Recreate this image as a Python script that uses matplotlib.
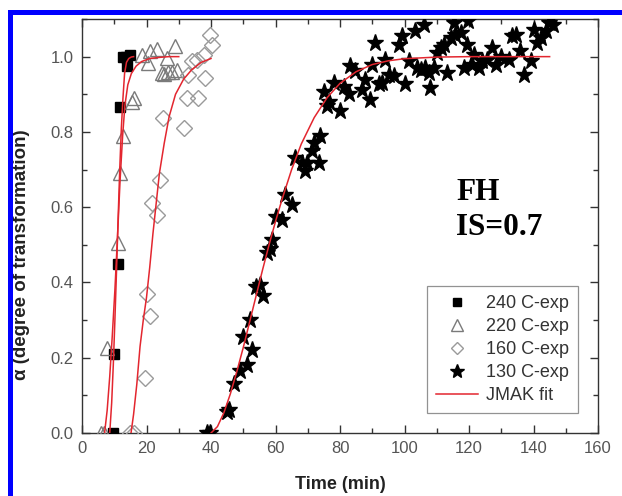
import matplotlib
matplotlib.use("Agg")
import matplotlib.pyplot as plt
from matplotlib.lines import Line2D
from matplotlib.ticker import MultipleLocator, FormatStrFormatter

# ---------------- data ----------------
t240 = [9.5, 9.8, 11.3, 11.8, 12.8, 13.6, 14.1, 14.9]
a240 = [0.0, 0.21, 0.45, 0.865, 1.0, 1.0, 0.975, 1.005]

t220 = [6.0, 6.8, 7.7, 11.3, 11.8, 12.6, 15.5, 16.0, 18.5, 20.6, 21.1, 23.2,
        24.7, 25.5, 26.3, 26.8, 27.8, 28.9, 29.4]
a220 = [0.0, 0.0, 0.225, 0.505, 0.69, 0.79, 0.88, 0.89, 1.005, 0.983, 1.014, 1.019,
        0.957, 0.955, 0.996, 0.96, 0.96, 1.027, 0.965]

t160 = [14.8, 16.0, 19.6, 20.1, 21.1, 21.6, 23.2, 24.2, 25.2, 31.5, 32.5, 33.0,
        34.2, 35.6, 36.1, 37.7, 38.2, 39.7, 40.3]
a160 = [0.0, 0.0, 0.145, 0.37, 0.31, 0.61, 0.58, 0.673, 0.837, 0.81, 0.89, 0.952,
        0.988, 0.992, 0.89, 1.005, 0.943, 1.058, 1.032]

t130 = [38.8, 39.8, 44.9, 45.6, 47.2, 49.0, 50.0, 51.1, 52.2, 52.8, 53.8, 55.2,
        56.0, 57.4, 58.4, 58.9, 60.3, 62.0, 63.0, 65.1, 66.1, 68.2, 69.3, 69.8,
        71.3, 71.8, 73.4, 73.9, 74.9, 76.0, 76.5, 78.0, 80.1, 81.1, 82.7, 83.2,
        84.8, 86.9, 87.9, 89.4, 90.0, 91.0, 92.0, 93.1, 94.1, 95.1, 96.7, 98.2,
        99.3, 100.3, 101.3, 103.4, 103.9, 105.0, 106.2, 106.5, 107.5, 108.0, 109.0,
        110.1, 111.2, 112.2, 113.3, 114.3, 115.5, 115.8, 117.4, 118.4, 119.5, 119.8,
        121.0, 121.5, 123.1, 124.1, 125.7, 127.2, 128.3, 129.8, 132.4, 133.4, 134.5,
        135.9, 137.0, 139.1, 140.0, 141.2, 142.2, 143.8, 144.8, 146.2]
a130 = [0.0, 0.0, 0.055, 0.062, 0.13, 0.165, 0.256, 0.18, 0.30, 0.22, 0.389, 0.394,
        0.365, 0.478, 0.49, 0.513, 0.575, 0.566, 0.633, 0.606, 0.73, 0.717, 0.695, 0.717,
        0.748, 0.77, 0.717, 0.788, 0.907, 0.868, 0.88, 0.93, 0.855, 0.92, 0.90, 0.975,
        0.961, 0.912, 0.939, 0.886, 0.979, 1.037, 0.926, 0.93, 0.992, 0.952, 0.948, 1.032,
        1.054, 0.926, 0.988, 1.068, 0.97, 0.965, 1.085, 0.97, 0.957, 0.917, 0.97,
        1.01, 1.023, 1.032, 0.957, 1.05, 1.09, 1.058, 1.063, 0.97, 1.032, 1.095,
        0.979, 1.005, 0.97, 0.988, 0.992, 1.023, 0.979, 1.0, 0.992, 1.054, 1.058,
        1.014, 0.952, 0.988, 1.07, 1.037, 1.05, 1.068, 1.09, 1.085]

# JMAK fit curves
fit240_t = [8.6, 9.2, 9.7, 10.2, 10.7, 11.2, 11.7, 12.2, 12.7, 13.2, 13.8, 14.5, 15.3, 16.0]
fit240_a = [0.0, 0.08, 0.18, 0.30, 0.43, 0.57, 0.70, 0.81, 0.89, 0.955, 0.985, 0.995, 0.999, 1.0]

fit220_t = [7.0, 7.8, 8.6, 9.4, 10.2, 11.0, 11.8, 12.6, 13.3, 14.2, 15.3, 16.8, 18.5,
            21.0, 24.0, 27.0, 30.0]
fit220_a = [0.0, 0.06, 0.15, 0.26, 0.38, 0.52, 0.67, 0.79, 0.87, 0.925, 0.955, 0.975, 0.987,
            0.995, 0.998, 1.0, 1.0]

fit160_t = [15.2, 16.0, 17.0, 18.0, 19.0, 20.0, 21.0, 22.0, 23.0, 24.0, 25.5, 27.0, 29.0,
            31.5, 34.0, 37.0, 40.0]
fit160_a = [0.0, 0.05, 0.13, 0.23, 0.30, 0.36, 0.44, 0.53, 0.61, 0.69, 0.77, 0.84, 0.90,
            0.94, 0.965, 0.985, 0.995]

fit130_t = [40, 42, 44, 46, 48, 50, 52, 54, 56, 58, 60, 62, 65, 68, 72, 76, 80, 85, 90,
            95, 100, 110, 120, 145]
fit130_a = [0.0, 0.017, 0.054, 0.104, 0.163, 0.227, 0.296, 0.365, 0.434, 0.5, 0.562, 0.62,
            0.70, 0.768, 0.838, 0.891, 0.929, 0.96, 0.979, 0.989, 0.9945, 0.9988, 1.0, 1.0]

labels = ["240 C-exp", "220 C-exp", "160 C-exp", "130 C-exp", "JMAK fit"]
x_ticks = [0, 20, 40, 60, 80, 100, 120, 140, 160]
y_ticks = [0.0, 0.2, 0.4, 0.6, 0.8, 1.0]

# ---------------- figure ----------------
plt.rcParams['font.family'] = ['Liberation Sans', 'DejaVu Sans']
fig = plt.figure(figsize=(6.22, 4.96), dpi=100)
ax = fig.add_axes([82 / 622, 1 - 433 / 496, 516 / 622, 414 / 496])

red = '#e3262f'
ax.plot(t240, a240, ls='none', marker='s', ms=6.5, mfc='black', mec='black', label=labels[0], zorder=3)
ax.plot(t220, a220, ls='none', marker='^', ms=10, mfc='none', mec='#7a7a7a', mew=1.0, label=labels[1], zorder=3)
ax.plot(t160, a160, ls='none', marker='D', ms=8, mfc='none', mec='#9a9a9a', mew=1.0, label=labels[2], zorder=3)
ax.plot(t130, a130, ls='none', marker='*', ms=12.5, mfc='black', mec='black', label=labels[3], zorder=3)
ax.plot(fit240_t, fit240_a, color=red, lw=1.1, label=labels[4], zorder=4)
ax.plot(fit220_t, fit220_a, color=red, lw=1.1, zorder=4)
ax.plot(fit160_t, fit160_a, color=red, lw=1.1, zorder=4)
ax.plot(fit130_t, fit130_a, color=red, lw=1.1, zorder=4)

ax.set_xlim(0, 160)
ax.set_ylim(0, 1.1)
ax.set_xticks(x_ticks)
ax.set_yticks(y_ticks)
ax.xaxis.set_minor_locator(MultipleLocator(10))
ax.yaxis.set_minor_locator(MultipleLocator(0.1))
ax.yaxis.set_major_formatter(FormatStrFormatter('%.1f'))
ax.tick_params(which='both', direction='in', top=True, right=True, color='#333333', width=1.0)
ax.tick_params(which='major', length=6, labelsize=12, labelcolor='#555555', pad=6)
ax.tick_params(which='minor', length=3.5)
for s in ax.spines.values():
    s.set_color('#333333')
    s.set_linewidth(1.0)

ax.set_xlabel('Time (min)', fontsize=13, fontweight='bold', color='#222222', labelpad=14)
ax.set_ylabel('α (degree of transformation)', fontsize=13.5, fontweight='bold', color='#222222', labelpad=6)
ax.yaxis.set_label_coords(-0.10, 0.43)

ax.text(0.725, 0.582, 'FH', transform=ax.transAxes, family=['Liberation Serif', 'DejaVu Serif'],
        fontsize=22.5, fontweight='bold', va='center', ha='left')
ax.text(0.725, 0.497, 'IS=0.7', transform=ax.transAxes, family=['Liberation Serif', 'DejaVu Serif'],
        fontsize=22.5, fontweight='bold', va='center', ha='left')

leg = ax.legend(loc='lower right', bbox_to_anchor=(0.961, 0.048), borderaxespad=0,
                fontsize=13, frameon=True, fancybox=False, edgecolor='#777777',
                handlelength=2.3, handletextpad=0.45, labelspacing=0.33, borderpad=0.5,
                markerscale=0.8)
leg.get_frame().set_linewidth(0.9)
for txt in leg.get_texts():
    txt.set_color('#333333')

# blue frame of the figure (top and left)
lw_px = 5
fig.add_artist(Line2D([9.8 / 622, 9.8 / 622, 1.0], [0.0, 1 - 12.3 / 496, 1 - 12.3 / 496],
                      transform=fig.transFigure, color='#0000ff', lw=lw_px * 72 / 100,
                      solid_joinstyle='miter'))

fig.savefig('out.png', dpi=100)
